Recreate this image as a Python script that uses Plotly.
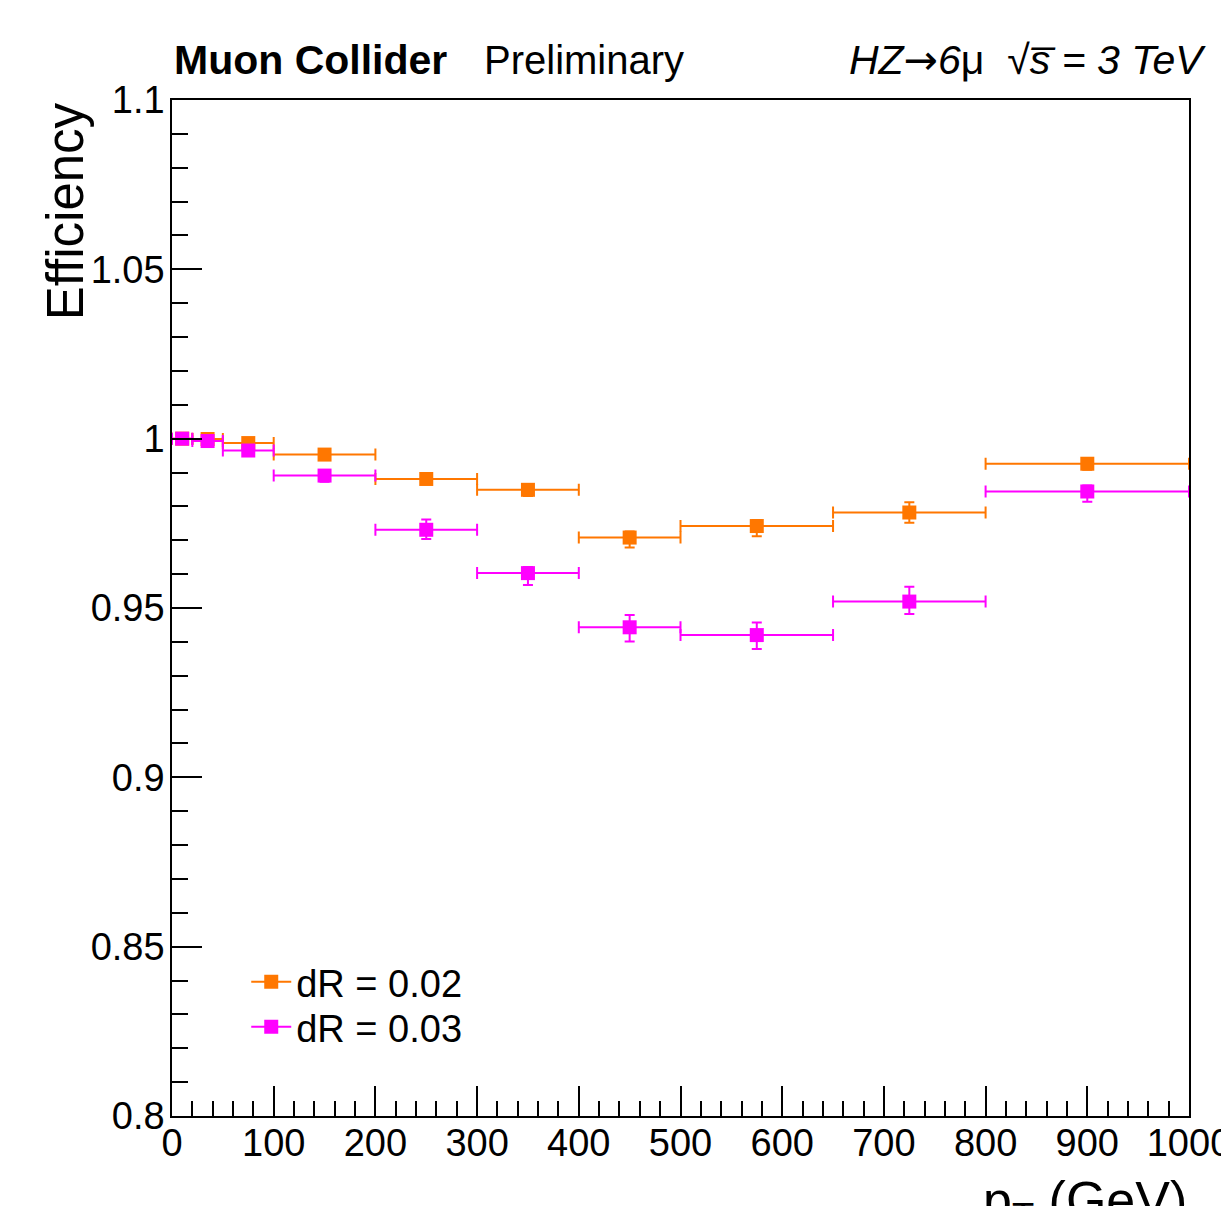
import plotly.graph_objects as go

# ---- data ----
bin_lo = [0, 20, 50, 100, 200, 300, 400, 500, 650, 800]
bin_hi = [20, 50, 100, 200, 300, 400, 500, 650, 800, 1000]

eff_02 = [1.0000, 0.9999, 0.9987, 0.9953, 0.9881, 0.9849, 0.9708, 0.9742, 0.9782, 0.9926]
err_02_up = [0.0000, 0.0001, 0.0005, 0.0010, 0.0012, 0.0015, 0.0018, 0.0018, 0.0030, 0.0015]
err_02_dn = [0.0002, 0.0005, 0.0008, 0.0012, 0.0015, 0.0018, 0.0029, 0.0030, 0.0030, 0.0018]

eff_03 = [1.0000, 0.9993, 0.9965, 0.9891, 0.9731, 0.9603, 0.9443, 0.9420, 0.9519, 0.9844]
err_03_up = [0.0000, 0.0004, 0.0008, 0.0015, 0.0030, 0.0018, 0.0036, 0.0037, 0.0044, 0.0018]
err_03_dn = [0.0003, 0.0008, 0.0010, 0.0018, 0.0027, 0.0035, 0.0042, 0.0041, 0.0037, 0.0030]

labels = ["dR = 0.02", "dR = 0.03"]
colors = ["#ff7700", "#ff00ff"]

x_tickvals = [0, 100, 200, 300, 400, 500, 600, 700, 800, 900, 1000]
x_ticktext = ["0", "100", "200", "300", "400", "500", "600", "700", "800", "900", "1000"]
y_tickvals = [0.8, 0.85, 0.9, 0.95, 1.0, 1.05, 1.1]
y_ticktext = ["0.8", "0.85", "0.9", "0.95", "1", "1.05", "1.1"]

FONT = "Liberation Sans, Arial, sans-serif"

x_c = [(a + b) / 2 for a, b in zip(bin_lo, bin_hi)]
x_e = [(b - a) / 2 for a, b in zip(bin_lo, bin_hi)]

fig = go.Figure()
series = [(eff_02, err_02_up, err_02_dn), (eff_03, err_03_up, err_03_dn)]
for (eff, eu, ed), lab, col in zip(series, labels, colors):
    fig.add_trace(go.Scatter(
        x=x_c, y=eff, mode="markers", showlegend=False,
        marker=dict(symbol="square", size=14, color=col),
        error_x=dict(type="data", array=x_e, symmetric=True, color=col, thickness=2, width=6),
        error_y=dict(type="data", array=eu, arrayminus=ed, symmetric=False, color=col, thickness=2, width=5),
        cliponaxis=False,
    ))
legend_ids = ["legend", "legend2"]
for lab, col, lid in zip(labels, colors, legend_ids):
    fig.add_trace(go.Scatter(
        x=[None], y=[None], mode="lines+markers", name=lab, legend=lid,
        marker=dict(symbol="square", size=14, color=col),
        line=dict(color=col, width=2),
    ))

leg_common = dict(x=0.073, xanchor="left", yanchor="top", bgcolor="rgba(0,0,0,0)",
                  font=dict(size=38), itemwidth=40)

fig.update_layout(
    width=1221, height=1206,
    margin=dict(l=172, r=32, t=100, b=90, autoexpand=False),
    paper_bgcolor="white", plot_bgcolor="white",
    font=dict(family=FONT, size=38, color="black"),
    showlegend=True,
    legend=dict(y=0.1629, **leg_common),
    legend2=dict(y=0.1186, **leg_common),
    xaxis=dict(range=[0, 1000], tickmode="array", tickvals=x_tickvals, ticktext=x_ticktext,
               ticks="inside", ticklen=30, tickwidth=1.5, tickcolor="black",
               minor=dict(ticks="inside", ticklen=15, dtick=20, tick0=0, tickwidth=1.5, tickcolor="black", showgrid=False),
               showline=True, linecolor="black", linewidth=1.5, mirror=True,
               showgrid=False, zeroline=False, ticklabelstandoff=-7, automargin=False,
               ticklabeloverflow="allow", tickfont=dict(size=38)),
    yaxis=dict(range=[0.8, 1.1], tickmode="array", tickvals=y_tickvals, ticktext=y_ticktext,
               ticks="inside", ticklen=30, tickwidth=1.5, tickcolor="black",
               minor=dict(ticks="inside", ticklen=16, dtick=0.01, tick0=0.8, tickwidth=1.5, tickcolor="black", showgrid=False),
               showline=True, linecolor="black", linewidth=1.5, mirror=True,
               showgrid=False, zeroline=False, ticklabelstandoff=-2, automargin=False,
               ticklabeloverflow="allow", tickfont=dict(size=38)),
)

ann = [
    dict(text="<b>Muon Collider</b>", x=0.0, y=1.0394, xanchor="left", yanchor="middle", font=dict(size=41)),
    dict(text="Preliminary", x=0.305, y=1.0394, xanchor="left", yanchor="middle", font=dict(size=40)),
    dict(text="<i>HZ</i><span style='font-family:DejaVu Sans'>\u2192</span><i>6</i>\u03bc  \u221a<i>s\u0305</i> <i>= 3 TeV</i>",
         x=1.0187, y=1.0394, xanchor="right", yanchor="middle", font=dict(size=41)),
    dict(text="Efficiency", x=-0.105, y=1.0, xanchor="center", yanchor="top", textangle=-90, font=dict(size=51)),
    dict(text="p<sub>T</sub> (GeV)", x=1.0, y=-0.052, xanchor="right", yanchor="top", font=dict(size=52)),
]
for a in ann:
    a.update(xref="paper", yref="paper", showarrow=False)
    fig.add_annotation(**a)

fig.write_html("out.html")
